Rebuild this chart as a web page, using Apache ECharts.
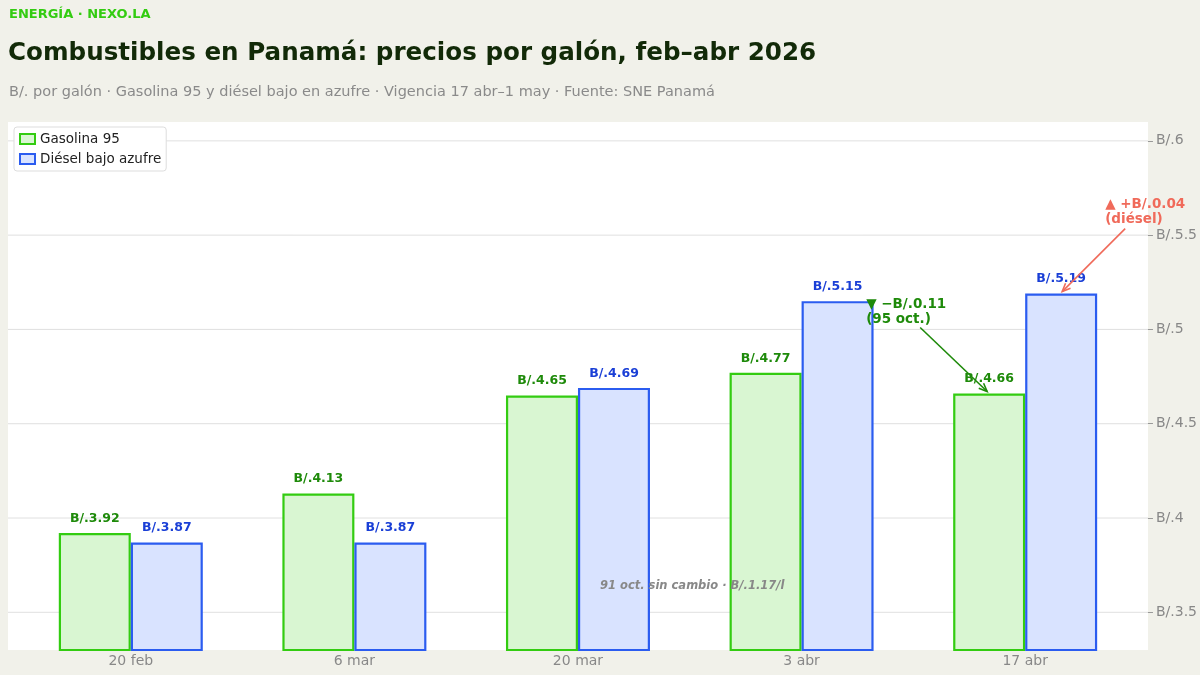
<!DOCTYPE html><html><head><meta charset="utf-8"><script src="https://cdn.jsdelivr.net/npm/echarts@6/dist/echarts.min.js"></script>
<style>html,body{margin:0;background:#f1f1ea}#c{width:1200px;height:675px}</style></head><body><div id="c"></div><script>
const categories=['20 feb','6 mar','20 mar','3 abr','17 abr'];
const gasolina=[3.92,4.13,4.65,4.77,4.66];
const diesel=[3.87,3.87,4.69,5.15,5.19];
const yTicks=[3.5,4,4.5,5,5.5,6];
const F='DejaVu Sans';
const chart=echarts.init(document.getElementById('c'));
const lbl=c=>({show:true,position:'top',distance:8,color:c,fontFamily:F,fontWeight:'bold',fontSize:12.5,formatter:p=>'B/.'+p.value.toFixed(2)});
chart.setOption({
 backgroundColor:'#f1f1ea',animation:false,
 title:[{text:'ENERGÍA · NEXO.LA',left:4,top:3,textStyle:{color:'#33cc11',fontFamily:F,fontWeight:'bold',fontSize:13}},
 {text:'Combustibles en Panamá: precios por galón, feb–abr 2026',left:3,top:36,textStyle:{color:'#122a08',fontFamily:F,fontWeight:'bold',fontSize:24.6}},
 {text:'B/. por galón · Gasolina 95 y diésel bajo en azufre · Vigencia 17 abr–1 may · Fuente: SNE Panamá',left:4,top:80,textStyle:{color:'#8a8a8a',fontFamily:F,fontWeight:'normal',fontSize:14.5}}],
 legend:{left:14,top:127,orient:'vertical',icon:'rect',itemWidth:15,itemHeight:10,itemGap:6,backgroundColor:'#fff',borderColor:'#ddd',borderWidth:1,borderRadius:3,padding:[5,5],z:10,textStyle:{fontFamily:F,fontSize:13.5,color:'#222'}},
 grid:{left:19,right:63,top:122,bottom:25},
 xAxis:{type:'category',data:categories,axisLine:{show:false},axisTick:{show:false},axisLabel:{color:'#888',fontFamily:F,fontSize:14,margin:4}},
 yAxis:{type:'value',position:'right',offset:11,min:3.3,max:6.1,interval:0.5,
  axisLabel:{color:'#888',fontFamily:F,fontSize:14,customValues:yTicks,formatter:v=>'B/.'+(+v.toFixed(1))},
  axisTick:{show:true,customValues:yTicks,length:5,lineStyle:{color:'#999'}},
  splitLine:{show:false},axisLine:{show:false}},
 series:[
 {name:'Gasolina 95',type:'bar',data:gasolina,barWidth:72,barGap:'0%',itemStyle:{color:'#d9f6d2',borderColor:'#33cc11',borderWidth:2.2},label:lbl('#1e8a0a')},
 {name:'Diésel bajo azufre',type:'bar',data:diesel,barWidth:72,itemStyle:{color:'#d9e3ff',borderColor:'#2b5cf0',borderWidth:2.2},label:lbl('#1a3fd6')}]
});
function ann(){
 const p=(c,v)=>chart.convertToPixel({xAxisIndex:0,yAxisIndex:0},[c,v]);
 const g=p(4,gasolina[4]), d=p(4,diesel[4]), n=p(2,3.64);
 const gx=g[0]-36, dx=d[0]+36;
 const grid=[{type:'rect',z:-10,silent:true,shape:{x:8,y:122,width:1140,height:528},style:{fill:'#fff'}}];
 yTicks.forEach(v=>{const y=p(0,v)[1];grid.push({type:'line',z:-5,silent:true,shape:{x1:8,y1:y,x2:1148,y2:y},style:{stroke:'#e0e0e0',lineWidth:1}});});
 const arrow=(x1,y1,x2,y2,col)=>{const a=Math.atan2(y2-y1,x2-x1),L=9;
  return [{type:'line',z:50,shape:{x1,y1,x2,y2},style:{stroke:col,lineWidth:1.6}},
  {type:'polyline',z:50,shape:{points:[[x2-L*Math.cos(a-0.4),y2-L*Math.sin(a-0.4)],[x2,y2],[x2-L*Math.cos(a+0.4),y2-L*Math.sin(a+0.4)]]},style:{stroke:col,lineWidth:1.6,fill:null}}];};
 chart.setOption({graphic:[...grid,
  ...arrow(gx-69,g[1]-66,gx-2,g[1]-2,'#1e8a0a'),
  ...arrow(dx+64,d[1]-65,dx+1,d[1]-2,'#f06a5a'),
  {type:'text',z:50,x:gx-123,y:g[1]-97,style:{text:'▼ −B/.0.11\n(95 oct.)',fill:'#1e8a0a',font:'bold 13.5px DejaVu Sans',lineHeight:15}},
  {type:'text',z:50,x:dx+44,y:d[1]-97,style:{text:'▲ +B/.0.04\n(diésel)',fill:'#f06a5a',font:'bold 13.5px DejaVu Sans',lineHeight:15}},
  {type:'text',z:50,x:n[0]+22,y:n[1],style:{text:'91 oct. sin cambio · B/.1.17/l',fill:'#888',font:'italic bold 11.5px DejaVu Sans',verticalAlign:'middle'}}
 ]});
}
ann();
</script></body></html>
